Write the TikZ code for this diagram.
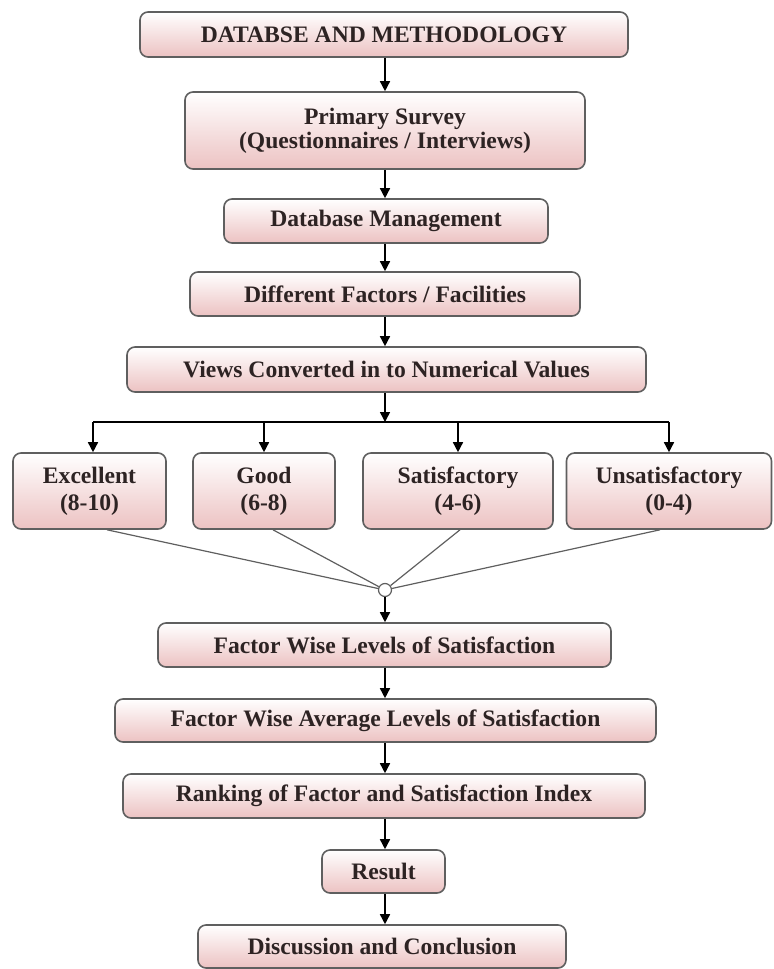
\documentclass[tikz,border=0pt]{standalone}
\definecolor{boxpink}{RGB}{236, 194, 194}
\definecolor{edgegray}{RGB}{95, 95, 95}
\definecolor{inkdark}{RGB}{45, 35, 35}
\usepackage{fontspec}
\setmainfont{Liberation Serif}
\usepackage{tikz}
\usetikzlibrary{shapes, arrows.meta, positioning, calc}

\begin{document}
\begin{tikzpicture}[x=0.5pt, y=-0.5pt,
    stepbox/.style={draw=edgegray, line width=0.8pt, rounded corners=4pt,
      top color=white, bottom color=boxpink, inner sep=0pt, align=center,
      text=inkdark, font={\fontsize{11.8}{12}\selectfont\bfseries}},
    arr/.style={line width=0.75pt, -{Triangle[length=5pt, width=5pt]}},
    fan/.style={draw=edgegray, line width=0.6pt},
    hub/.style={circle, draw=edgegray, line width=0.6pt, fill=white,
      minimum size=6.5pt, inner sep=0pt}]
  \useasboundingbox (0,0) rectangle (773,969);

  % main column
  \node[stepbox, minimum width=244pt, minimum height=22.5pt] (dbm) at (384,34.5)
    {DATABSE AND METHODOLOGY};
  \node[stepbox, minimum width=200pt, minimum height=38.5pt] (survey) at (385,130.5)
    {Primary Survey\\(Questionnaires / Interviews)};
  \node[stepbox, minimum width=162pt, minimum height=22pt] (dbmanage) at (386,221)
    {Database Management};
  \node[stepbox, minimum width=195pt, minimum height=22pt] (factors) at (385,294)
    {Different Factors / Facilities};
  \node[stepbox, minimum width=259.5pt, minimum height=22.5pt] (views) at (386.5,369.5)
    {Views Converted in to Numerical Values};

  % rating classes
  \node[stepbox, minimum width=76.5pt, minimum height=38pt] (exc) at (89.5,491)
    {Excellent\\[1.5pt](8-10)};
  \node[stepbox, minimum width=71pt, minimum height=38pt] (good) at (264,491)
    {Good\\[1.5pt](6-8)};
  \node[stepbox, minimum width=95pt, minimum height=38pt] (sat) at (458,491)
    {Satisfactory\\[1.5pt](4-6)};
  \node[stepbox, minimum width=102.5pt, minimum height=38pt] (unsat) at (669,491)
    {Unsatisfactory\\[1.5pt](0-4)};
  \node[hub] (hub) at (385,590) {};

  \node[stepbox, minimum width=226.5pt, minimum height=22pt] (levels) at (384.5,645)
    {Factor Wise Levels of Satisfaction};
  \node[stepbox, minimum width=270.5pt, minimum height=21.5pt] (avg) at (385.5,720.5)
    {Factor Wise Average Levels of Satisfaction};
  \node[stepbox, minimum width=261pt, minimum height=22pt] (rank) at (384,796)
    {Ranking of Factor and Satisfaction Index};
  \node[stepbox, minimum width=61.5pt, minimum height=21.5pt] (result) at (383.5,871.5)
    {Result};
  \node[stepbox, minimum width=184pt, minimum height=21.5pt] (disc) at (382,946.5)
    {Discussion and Conclusion};

  % arrows
  \draw[arr] (dbm.south -| 385,0) -- (survey.north -| 385,0);
  \draw[arr] (survey.south -| 385,0) -- (dbmanage.north -| 385,0);
  \draw[arr] (dbmanage.south -| 385,0) -- (factors.north -| 385,0);
  \draw[arr] (factors.south -| 385,0) -- (views.north -| 385,0);
  \coordinate (split) at (385,422);
  \draw[arr] (views.south -| split) -- (split);
  \draw[line width=0.75pt] (93,422) -- (unsat.north |- split);
  \draw[arr] (93,422) -- (93,0 |- exc.north);
  \foreach \n in {good, sat, unsat}
    \draw[arr] (\n.north |- split) -- (\n.north);

  % lines into the hub
  \draw[fan] ([xshift=8.75pt]exc.south) -- (hub);
  \draw[fan] ([xshift=4.5pt]good.south) -- (hub);
  \draw[fan] ([xshift=1pt]sat.south) -- (hub);
  \draw[fan] ([xshift=-4.5pt]unsat.south) -- (hub);
  \draw[arr] (hub) -- (levels.north -| hub);

  \draw[arr] (levels.south -| 385,0) -- (avg.north -| 385,0);
  \draw[arr] (avg.south -| 385,0) -- (rank.north -| 385,0);
  \draw[arr] (rank.south -| 385,0) -- (result.north -| 385,0);
  \draw[arr] (result.south -| 385,0) -- (disc.north -| 385,0);
\end{tikzpicture}
\end{document}
